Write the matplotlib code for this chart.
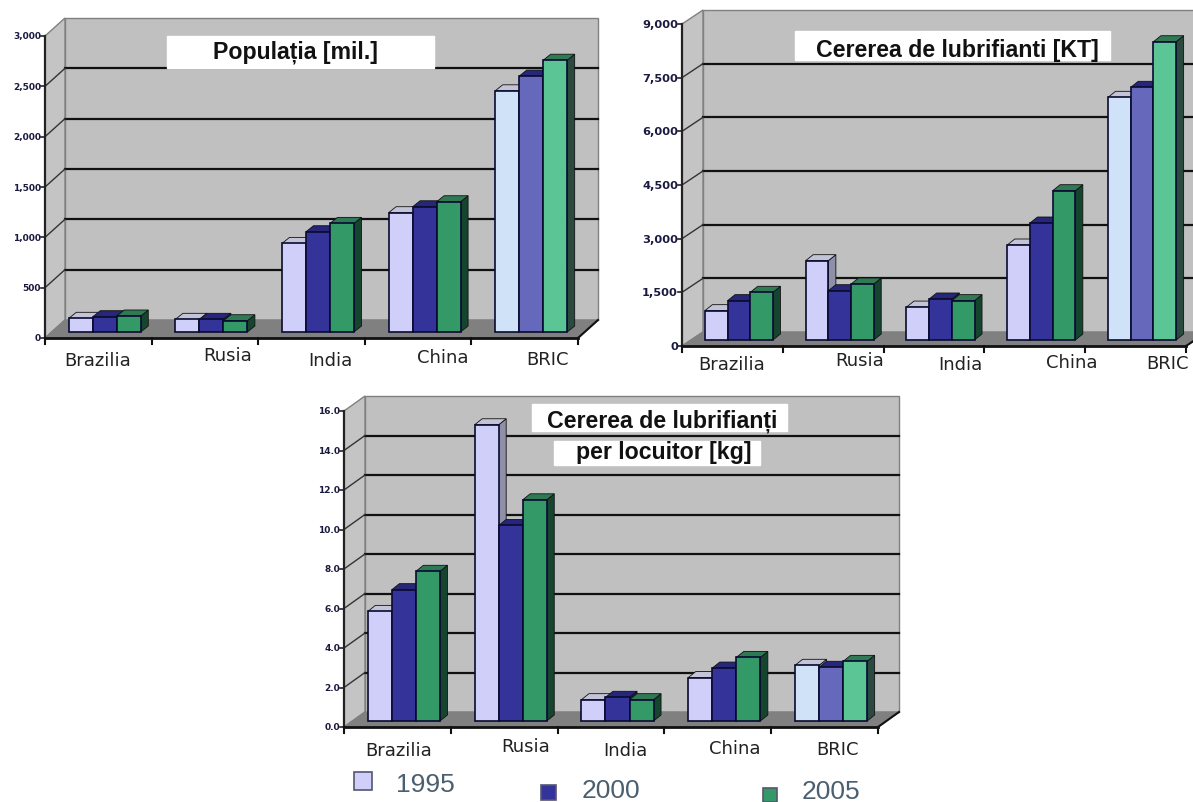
import matplotlib
matplotlib.use('Agg')
import matplotlib.pyplot as plt
from matplotlib.patches import Rectangle

W, H = 1193, 803

categories = ['Brazilia', 'Rusia', 'India', 'China', 'BRIC']
years = ['1995', '2000', '2005']

# one list per year, same order as categories
pop_1995 = [136, 126, 880, 1185, 2396]
pop_2000 = [152, 126, 996, 1244, 2542]
pop_2005 = [159, 112, 1079, 1294, 2700]

dem_1995 = [820, 2217, 920, 2655, 6783]
dem_2000 = [1100, 1378, 1146, 3270, 7063]
dem_2005 = [1333, 1565, 1100, 4173, 8337]

cap_1995 = [5.55, 15.0, 1.08, 2.2, 2.82]
cap_2000 = [6.65, 9.9, 1.2, 2.68, 2.72]
cap_2005 = [7.58, 11.2, 1.08, 3.22, 3.02]

pop_ticks = [0, 500, 1000, 1500, 2000, 2500, 3000]
pop_ticklabels = ['0', '500', '1,000', '1,500', '2,000', '2,500', '3,000']
dem_ticks = [0, 1500, 3000, 4500, 6000, 7500, 9000]
dem_ticklabels = ['0', '1,500', '3,000', '4,500', '6,000', '7,500', '9,000']
cap_ticks = [0, 2, 4, 6, 8, 10, 12, 14, 16]
cap_ticklabels = ['0.0', '2.0', '4.0', '6.0', '8.0', '10.0', '12.0', '14.0', '16.0']

face = ['#cfcffa', '#33339a', '#339966']
face_bric = ['#cfe2f8', '#6668bb', '#5cc596']
top = ['#c4c4d8', '#26267a', '#2f7a55']
side = ['#8f8fa8', '#1c1c5c', '#15452f']
side_bric = ['#8f9aa8', '#2c2c70', '#2a4a40']
ink = '#1a1a40'

fig = plt.figure(figsize=(W / 100, H / 100), dpi=100)
fig.patch.set_facecolor('white')


def ftext(x, y, s, **kw):
    fig.text(x / W, 1 - y / H, s, ha='center', va='center', **kw)


def draw_panel(vals, ticks, ticklabels, left, right, y0, ytop, dx, dy, tick_fs, use_bric_colors=True):
    ax = fig.add_axes([left / W, 1 - y0 / H, (right - left) / W, (y0 - ytop) / H])
    ax.set_xlim(-0.5, 4.5)
    ax.set_ylim(0, ticks[-1])
    ax.patch.set_visible(False)
    for s in ax.spines.values():
        s.set_visible(False)
    ax.set_xticks([])
    ax.set_yticks([])

    ux = 5 / (right - left)  # category units per pixel
    uy = ticks[-1] / (y0 - ytop)
    ddx, ddy = dx * ux, dy * uy
    x0, x1, ymax = -0.5, 4.5, ticks[-1]

    # walls and floor
    ax.fill([x0 + ddx, x1 + ddx, x1 + ddx, x0 + ddx], [ddy, ddy, ymax + ddy, ymax + ddy],
            color='#c0c0c0', ec='#808080', lw=1, zorder=1, clip_on=False)
    ax.fill([x0, x0 + ddx, x0 + ddx, x0], [0, ddy, ymax + ddy, ymax],
            color='#c4c4c4', ec='#808080', lw=1, zorder=1, clip_on=False)
    ax.fill([x0, x1, x1 + ddx, x0 + ddx], [0, 0, ddy, ddy], color='#808080', zorder=2, clip_on=False)

    for t in ticks[1:-1]:
        ax.plot([x0 + ddx, x1 + ddx], [t + ddy, t + ddy], color='#111111', lw=1.6, zorder=2, clip_on=False)
        ax.plot([x0, x0 + ddx], [t, t + ddy], color='#333333', lw=1, zorder=2, clip_on=False)
    ax.plot([x1, x1 + ddx], [0, ddy], color='#111111', lw=1.5, zorder=3, clip_on=False)

    # axes lines and ticks
    ax.plot([x0, x1], [0, 0], color='#111111', lw=2, zorder=3, clip_on=False)
    ax.plot([x0, x0], [0, ymax], color='#222222', lw=1.6, zorder=3, clip_on=False)
    for t, lab in zip(ticks, ticklabels):
        ax.plot([x0 - 4 * ux, x0], [t, t], color='#222222', lw=1.2, clip_on=False, zorder=3)
        ax.text(x0 - 4 * ux, t, lab, ha='right', va='center', fontsize=tick_fs, color=ink,
                fontweight='bold', clip_on=False)
    for i in range(6):
        ax.plot([x0 + i, x0 + i], [0, -6 * uy], color='#111111', lw=1.5, clip_on=False, zorder=3)

    # bars: front face with ax.bar, side and top as polygons
    w = 0.225
    shift = 6.5 * ux
    lift = 6 * uy
    bx, by = 7.5 * ux, 6 * uy
    z = 4
    for i in range(len(categories)):
        for k in range(3):
            v = vals[k][i]
            xl = i + shift + (k - 1.5) * w
            xr = xl + w
            bric = i == 4 and use_bric_colors
            fc = face_bric[k] if bric else face[k]
            sc = side_bric[k] if bric else side[k]
            ytp = lift + v
            ax.fill([xr, xr + bx, xr + bx, xr], [lift, lift + by, ytp + by, ytp],
                    color=sc, ec='#111111', lw=0.6, zorder=z, clip_on=False)
            ax.fill([xl, xr, xr + bx, xl + bx], [ytp, ytp, ytp + by, ytp + by],
                    color=top[k], ec='#111111', lw=0.6, zorder=z, clip_on=False)
            ax.bar(xl, v, w, bottom=lift, align='edge', color=fc, edgecolor='#0a0a30', linewidth=1.2,
                   zorder=z + 1, clip_on=False)
            z += 2
    return ax


draw_panel([pop_1995, pop_2000, pop_2005], pop_ticks, pop_ticklabels, 45, 578, 339, 37, 20, 18, 6.5)
draw_panel([dem_1995, dem_2000, dem_2005], dem_ticks, dem_ticklabels, 682, 1186, 347, 25, 21, 14, 8.2)
draw_panel([cap_1995, cap_2000, cap_2005], cap_ticks, cap_ticklabels, 344, 878, 728, 412, 21, 15, 6.5)

# category labels sit a bit unevenly in the original
label_pos = [
    [(98, 361), (228, 356), (330, 361), (443, 358), (547, 360)],
    [(732, 365), (860, 361), (960, 365), (1072, 363), (1168, 364)],
    [(399, 751), (526, 747), (625, 751), (735, 749), (837, 750)],
]
for row in label_pos:
    for (x, y), name in zip(row, categories):
        ftext(x, y, name, fontsize=13, color='#222222', zorder=50)

# title boxes
title_boxes = [(167, 37, 267, 32), (795, 32, 315, 29), (532, 405, 255, 27), (554, 442, 206, 24)]
for x, y, bw, bh in title_boxes:
    fig.add_artist(Rectangle((x / W, 1 - (y + bh) / H), bw / W, bh / H, transform=fig.transFigure,
                             color='white', zorder=40))
title_font = dict(family='Liberation Sans', fontweight='bold', color='#111111', zorder=50)
ftext(295, 52, 'Populația [mil.]', fontsize=16.7, **title_font)
ftext(957, 51, 'Cererea de lubrifianti [KT]', fontsize=16.7, **title_font)
ftext(662, 421, 'Cererea de lubrifianți', fontsize=16.7, **title_font)
ftext(664, 453, 'per locuitor [kg]', fontsize=16.7, **title_font)

# legend drawn by hand, markers are not aligned in the original
legend_boxes = [(354, 773, 18, 18), (541, 786, 15, 15), (763, 789, 14, 14)]
legend_text = [(425, 785), (611, 791), (831, 792)]
for (x, y, s, h), (tx, ty), yr, c in zip(legend_boxes, legend_text, years, face):
    fig.add_artist(Rectangle((x / W, 1 - (y + h) / H), s / W, h / H, transform=fig.transFigure,
                             facecolor=c, edgecolor='#555570', lw=1.2, zorder=40))
    ftext(tx, ty, yr, fontsize=19, family='Liberation Sans', color='#4a5f70', zorder=50)

fig.savefig('out.png', dpi=100)
